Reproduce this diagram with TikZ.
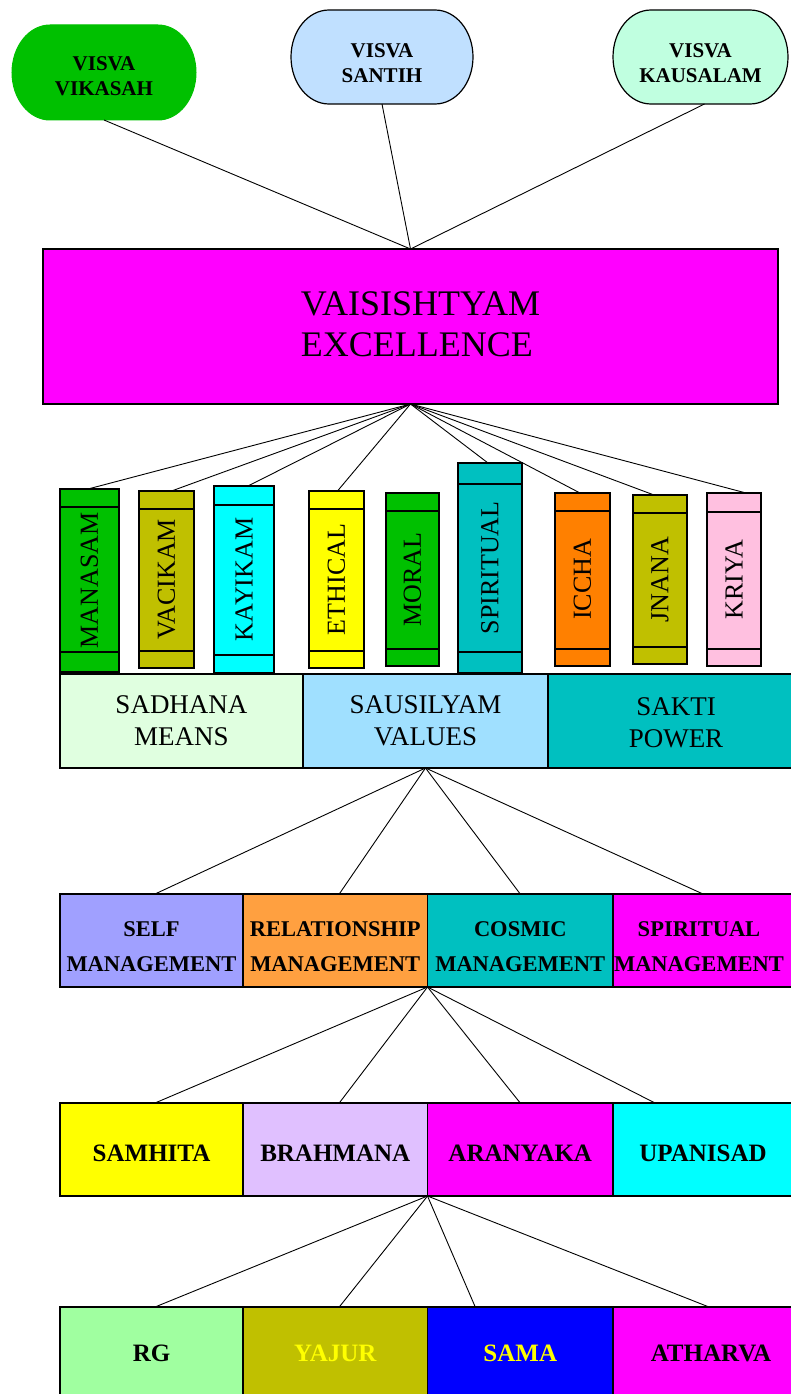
\documentclass[tikz,border=0pt]{standalone}
\usepackage{fontspec}
\setmainfont{Liberation Serif}
\pgfdeclarelayer{bg}
\pgfsetlayers{bg,main}
\definecolor{cgreen}{RGB}{0,192,0}
\definecolor{clblue}{RGB}{192,224,255}
\definecolor{cmint}{RGB}{192,255,224}
\definecolor{cmag}{RGB}{255,0,255}
\definecolor{colive}{RGB}{192,192,0}
\definecolor{cteal}{RGB}{0,192,192}
\definecolor{ccyan}{RGB}{0,255,255}
\definecolor{cyel}{RGB}{255,255,0}
\definecolor{corange}{RGB}{255,128,0}
\definecolor{cpink}{RGB}{255,192,224}
\definecolor{csad}{RGB}{224,255,224}
\definecolor{csau}{RGB}{160,224,255}
\definecolor{cself}{RGB}{160,160,255}
\definecolor{crel}{RGB}{255,160,64}
\definecolor{clav}{RGB}{224,192,255}
\definecolor{clgreen}{RGB}{160,255,160}
\definecolor{cblue}{RGB}{0,0,255}
\newcommand{\ovalshape}[4]{%
  \path[#4] ([xshift=#2]#1.north west) -- ([xshift=-#2]#1.north east)
    arc[start angle=90,end angle=0,x radius=#2,y radius=#3]
    arc[start angle=0,end angle=-90,x radius=#2,y radius=#3]
    -- ([xshift=#2]#1.south west)
    arc[start angle=270,end angle=180,x radius=#2,y radius=#3]
    arc[start angle=180,end angle=90,x radius=#2,y radius=#3] -- cycle;}
\newcommand{\twol}[4][0pt]{\raisebox{#1}[\height][\depth]{\begin{tabular}{@{}#2@{}}#3\\#4\end{tabular}}}
\newcommand{\onel}[2][0pt]{\raisebox{#1}[\height][\depth]{#2}}
\begin{document}
\begin{tikzpicture}[x=1pt,y=1pt,
  conn/.style={draw=black,line width=0.9pt},
  ovaltxt/.style={inner sep=0pt,outer sep=0pt,align=center,font=\bfseries\fontsize{21}{25}\selectfont},
  box/.style={draw=black,line width=1.4pt,inner sep=0pt,outer sep=0pt,align=center},
  book/.style={box,line width=1.2pt,font=\fontsize{26}{30}\selectfont},
  band/.style={draw=black,line width=1.2pt},
  rowone/.style={box,minimum height=94pt,font=\fontsize{27}{32}\selectfont},
  mgmt/.style={box,minimum height=93pt,font=\bfseries\fontsize{22.5}{35}\selectfont},
  veda/.style={box,minimum height=93pt,font=\bfseries\fontsize{25}{30}\selectfont}
]
\useasboundingbox (0,0) rectangle (790,-1394);

% top ovals
\node[ovaltxt,minimum width=184pt,minimum height=95pt] (vv) at (104,-72.5) {\twol[-6pt]{c}{VISVA}{VIKASAH}};
\node[ovaltxt,minimum width=182pt,minimum height=94pt] (vs) at (382,-57) {\twol[-8pt]{c}{VISVA}{SANTIH}};
\node[ovaltxt,minimum width=175pt,minimum height=94pt] (vk) at (700.5,-57) {\twol[-8pt]{c}{VISVA}{KAUSALAM}};
\begin{pgfonlayer}{bg}
\ovalshape{vv}{38pt}{47.5pt}{fill=cgreen,draw=cgreen,line width=1pt}
\ovalshape{vs}{38pt}{47pt}{fill=clblue,draw=black,line width=1.2pt}
\ovalshape{vk}{38pt}{47pt}{fill=cmint,draw=black,line width=1.2pt}
\end{pgfonlayer}

% excellence box
\node[box,fill=cmag,minimum width=735pt,minimum height=155pt,
  font=\fontsize{36}{41}\selectfont] (mag) at (410.5,-326.5)
  {\hspace*{20pt}\twol[-1.5pt]{l}{VAISISHTYAM}{EXCELLENCE}};

\draw[conn] (vv.south) -- (mag.north);
\draw[conn] (vs.south) -- (mag.north);
\draw[conn] ([xshift=4pt]vk.south) -- (mag.north);

% books
\node[book,fill=cgreen,minimum width=59pt,minimum height=183pt] (man) at (89.5,-580.5) {\rotatebox{90}{MANASAM}};
\node[book,fill=colive,minimum width=55pt,minimum height=177pt] (vac) at (166.5,-579.5) {\rotatebox{90}{VACIKAM}};
\node[book,fill=ccyan,minimum width=60pt,minimum height=187pt] (kay) at (244,-579.5) {\rotatebox{90}{KAYIKAM}};
\node[book,fill=cyel,minimum width=55pt,minimum height=177pt] (eth) at (336.5,-579.5) {\rotatebox{90}{ETHICAL}};
\node[book,fill=cgreen,minimum width=53pt,minimum height=173pt] (mor) at (412.5,-579.5) {\rotatebox{90}{MORAL}};
\node[book,fill=cteal,minimum width=64pt,minimum height=210pt] (spi) at (490,-568) {\rotatebox{90}{SPIRITUAL}};
\node[book,fill=corange,minimum width=55pt,minimum height=173pt] (icc) at (582.5,-579.5) {\rotatebox{90}{ICCHA}};
\node[book,fill=colive,minimum width=54pt,minimum height=169pt] (jna) at (660,-579.5) {\rotatebox{90}{JNANA}};
\node[book,fill=cpink,minimum width=54pt,minimum height=173pt] (kri) at (734,-579.5) {\rotatebox{90}{KRIYA}};

\draw[band] (man.west |- 0,-507) -- (man.east |- 0,-507);
\draw[band] (man.west |- 0,-652) -- (man.east |- 0,-652);
\draw[band] (vac.west |- 0,-509) -- (vac.east |- 0,-509);
\draw[band] (vac.west |- 0,-651) -- (vac.east |- 0,-651);
\draw[band] (kay.west |- 0,-505) -- (kay.east |- 0,-505);
\draw[band] (kay.west |- 0,-655) -- (kay.east |- 0,-655);
\draw[band] (eth.west |- 0,-509) -- (eth.east |- 0,-509);
\draw[band] (eth.west |- 0,-651) -- (eth.east |- 0,-651);
\draw[band] (mor.west |- 0,-511) -- (mor.east |- 0,-511);
\draw[band] (mor.west |- 0,-649) -- (mor.east |- 0,-649);
\draw[band] (spi.west |- 0,-484) -- (spi.east |- 0,-484);
\draw[band] (spi.west |- 0,-652) -- (spi.east |- 0,-652);
\draw[band] (icc.west |- 0,-511) -- (icc.east |- 0,-511);
\draw[band] (icc.west |- 0,-649) -- (icc.east |- 0,-649);
\draw[band] (jna.west |- 0,-513) -- (jna.east |- 0,-513);
\draw[band] (jna.west |- 0,-647) -- (jna.east |- 0,-647);
\draw[band] (kri.west |- 0,-512) -- (kri.east |- 0,-512);
\draw[band] (kri.west |- 0,-649) -- (kri.east |- 0,-649);

\draw[conn] (mag.south) -- ([xshift=-1.5pt]man.north);
\draw[conn] (mag.south) -- ([xshift=5pt]vac.north);
\draw[conn] (mag.south) -- ([xshift=4pt]kay.north);
\draw[conn] (mag.south) -- ([xshift=1pt]eth.north);
\draw[conn] (mag.south) -- ([xshift=-2pt]spi.north);
\draw[conn] (mag.south) -- ([xshift=-2.5pt]icc.north);
\draw[conn] (mag.south) -- ([xshift=-6pt]jna.north);
\draw[conn] (mag.south) -- ([xshift=12pt]kri.north);

% row 1
\node[rowone,fill=csad,minimum width=243pt] (sad) at (181.5,-721) {SADHANA\\MEANS};
\node[rowone,fill=csau,minimum width=245pt] (sau) at (425.5,-721) {SAUSILYAM\\VALUES};
\node[rowone,fill=cteal,minimum width=245pt] (sak) at (670.5,-721) {\hspace*{11pt}\twol[-4pt]{c}{SAKTI}{POWER}};

% row 2
\node[mgmt,fill=cself,minimum width=183pt] (self) at (151.5,-940.5) {\twol[-6pt]{c}{SELF}{MANAGEMENT}};
\node[mgmt,fill=crel,minimum width=184.5pt] (rel) at (335.25,-940.5) {\twol[-6pt]{c}{RELATIONSHIP}{MANAGEMENT}};
\node[mgmt,fill=cteal,minimum width=185.5pt] (cos) at (520.25,-940.5) {\twol[-6pt]{c}{COSMIC}{MANAGEMENT}};
\node[mgmt,fill=cmag,minimum width=180pt] (spm) at (703,-940.5) {\twol[-6pt]{c}{SPIRITUAL}{MANAGEMENT}\hspace*{8pt}};

\draw[conn] (sau.south) -- ([xshift=3.5pt]self.north);
\draw[conn] (sau.south) -- ([xshift=4pt]rel.north);
\draw[conn] (sau.south) -- (cos.north);
\draw[conn] (sau.south) -- (spm.north);

% row 3
\node[veda,fill=cyel,minimum width=183pt] (sam) at (151.5,-1149.5) {\onel[-4pt]{SAMHITA}};
\node[veda,fill=clav,minimum width=184.5pt] (bra) at (335.25,-1149.5) {\onel[-4pt]{BRAHMANA}};
\node[veda,fill=cmag,minimum width=185.5pt] (ara) at (520.25,-1149.5) {\onel[-4pt]{ARANYAKA}};
\node[veda,fill=ccyan,minimum width=180pt] (upa) at (703,-1149.5) {\onel[-4pt]{UPANISAD}};

\draw[conn] (rel.south east) -- ([xshift=3.5pt]sam.north);
\draw[conn] (rel.south east) -- ([xshift=4pt]bra.north);
\draw[conn] (rel.south east) -- (ara.north);
\draw[conn] (rel.south east) -- ([xshift=-48pt]upa.north);

% row 4
\node[veda,fill=clgreen,minimum width=183pt] (rg) at (151.5,-1353.5) {RG};
\node[veda,fill=colive,minimum width=184.5pt,text=cyel] (yaj) at (335.25,-1353.5) {YAJUR};
\node[veda,fill=cblue,minimum width=185.5pt,text=cyel] (sama) at (520.25,-1353.5) {SAMA};
\node[veda,fill=cmag,minimum width=180pt] (ath) at (703,-1353.5) {\hspace*{16pt}ATHARVA};

\draw[conn] (bra.south east) -- ([xshift=3.5pt]rg.north);
\draw[conn] (bra.south east) -- ([xshift=4pt]yaj.north);
\draw[conn] (bra.south east) -- ([xshift=-45pt]sama.north);
\draw[conn] (bra.south east) -- ([xshift=6pt]ath.north);
\end{tikzpicture}
\end{document}
